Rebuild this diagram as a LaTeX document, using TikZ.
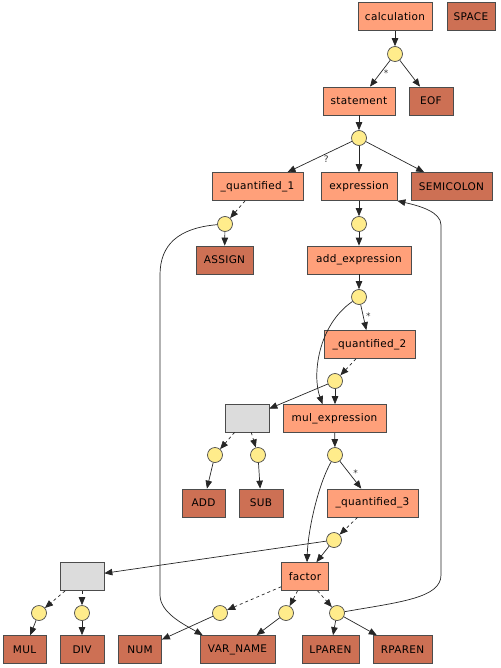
\documentclass[tikz,border=0pt]{standalone}
\usepackage{fontspec}
\setmainfont[LetterSpace=3]{DejaVu Sans}
\usetikzlibrary{arrows.meta}
\definecolor{rulefill}{HTML}{FFA07A}
\definecolor{tokenfill}{HTML}{CD7054}
\definecolor{dotfill}{HTML}{FFEC8B}
\definecolor{altfill}{HTML}{DCDCDC}

\begin{document}
\begin{tikzpicture}[x=1pt,y=-1pt,line width=0.7pt,
  box/.style={draw=black!70, minimum height=28pt, inner xsep=6pt, font=\fontsize{10.5}{12}\selectfont},
  rule/.style={box, fill=rulefill},
  token/.style={box, fill=tokenfill},
  alt/.style={box, fill=altfill, minimum width=44pt},
  dot/.style={circle, draw=black!70, fill=dotfill, minimum size=15pt, inner sep=0pt},
  link/.style={-{Triangle[length=8pt,width=6.5pt]}, black!85},
  optlink/.style={link, dash pattern=on 3pt off 3pt},
  quant/.style={font=\fontsize{9}{10}\selectfont, inner sep=1.5pt, black!80}]
  \useasboundingbox (0,0) rectangle (500,668);
  % rules and tokens
  \node[rule, minimum width=74pt] (calculation) at (395,16.5) {calculation};
  \node[token, minimum width=48pt] (SPACE) at (471,16.5) {SPACE};
  \node[dot] (d1) at (395,54) {};
  \node[rule, minimum width=72pt] (statement) at (359,101) {statement};
  \node[token, minimum width=44pt] (EOF) at (431,101) {EOF};
  \node[dot] (d2) at (359,138) {};
  \node[rule, minimum width=91pt] (quant1) at (257.5,186.5) {\_quantified\_1};
  \node[rule, minimum width=76pt] (expression) at (359,186.5) {expression};
  \node[token, minimum width=81pt] (SEMICOLON) at (451.5,186.5) {SEMICOLON};
  \node[dot] (d3) at (225,224) {};
  \node[dot] (d4) at (359,224) {};
  \node[token, minimum width=57pt] (ASSIGN) at (224.5,260) {ASSIGN};
  \node[rule, minimum width=104pt] (addexpr) at (359,260) {add\_expression};
  \node[dot] (d5) at (359,297) {};
  \node[rule, minimum width=91pt] (quant2) at (369.5,344.5) {\_quantified\_2};
  \node[dot] (d6) at (335,381) {};
  \node[alt] (alt1) at (247,418) {};
  \node[rule, minimum width=103pt] (mulexpr) at (334.5,418.5) {mul\_expression};
  \node[dot] (d7) at (215,455) {};
  \node[dot] (d8) at (258,455) {};
  \node[dot] (d9) at (335,455) {};
  \node[token, minimum width=43pt] (ADD) at (203.5,503) {ADD};
  \node[token, minimum width=44pt] (SUB) at (261,503) {SUB};
  \node[rule, minimum width=91pt] (quant3) at (372.5,503) {\_quantified\_3};
  \node[dot] (d10) at (334,540) {};
  \node[alt] (alt2) at (82,576.5) {};
  \node[rule, minimum width=47pt] (factor) at (305,576.5) {factor};
  \node[dot] (d11) at (39,613) {};
  \node[dot] (d12) at (82,613) {};
  \node[dot] (d13) at (220,613) {};
  \node[dot] (d14) at (286,613) {};
  \node[dot] (d15) at (337,613) {};
  \node[token, minimum width=43pt] (MUL) at (24.5,649.5) {MUL};
  \node[token, minimum width=44pt] (DIV) at (82,649.5) {DIV};
  \node[token, minimum width=43pt] (NUM) at (140,649.5) {NUM};
  \node[token, minimum width=75pt] (VAR_NAME) at (237.5,649.5) {VAR\_NAME};
  \node[token, minimum width=57pt] (LPAREN) at (330.5,649.5) {LPAREN};
  \node[token, minimum width=59pt] (RPAREN) at (402.5,649.5) {RPAREN};
  \coordinate (lt) at (160,275);   % left loop, top
  \coordinate (lb) at (160,595);   % left loop, bottom
  \coordinate (rt) at (441,225);   % right loop, top
  \coordinate (rb) at (441,575);   % right loop, bottom
  % edges
  \draw[link] (calculation) -- (d1);
  \draw[link] (d1) -- node[quant, pos=.5, right=2pt] (star1) {*} (statement);
  \draw[link] (d1) -- (EOF);
  \draw[link] (statement) -- (d2);
  \draw[link] (d2) -- node[quant, pos=.4, below] (qmark) {?} (quant1);
  \draw[link] (d2) -- (expression);
  \draw[link] (d2) -- (SEMICOLON);
  \draw[optlink] (quant1) -- (d3);
  \draw[link] (d3) -- (ASSIGN);
  \draw[link] (d3) .. controls (178,228) and (160,245) .. (lt) -- (lb)
    .. controls (160,613) and (185,625) .. ([xshift=3pt]VAR_NAME.north west);
  \draw[link] (expression) -- (d4);
  \draw[link] (d4) -- (addexpr);
  \draw[link] (addexpr) -- (d5);
  \draw[link] (d5) -- node[quant, pos=.45, right=1pt] (star2) {*} (quant2);
  \draw[link] (d5) .. controls (318,325) and (312,375) .. ([xshift=-12pt]mulexpr.north);
  \draw[optlink] (quant2) -- (d6);
  \draw[link] (d6) -- (alt1);
  \draw[link] (d6) -- (d6 |- mulexpr.north);
  \draw[optlink] (alt1) -- (d7);
  \draw[optlink] (alt1) -- (d8);
  \draw[link] (d7) -- (ADD);
  \draw[link] (d8) -- (SUB);
  \draw[link] (mulexpr) -- (d9);
  \draw[link] (d9) -- node[quant, pos=.45, right=2pt] (star3) {*} (quant3);
  \draw[link] (d9) .. controls (318,485) and (308,530) .. ([xshift=2pt]factor.north);
  \draw[optlink] (quant3) -- (d10);
  \draw[link] (d10) -- (alt2);
  \draw[link] (d10) -- (factor);
  \draw[optlink] (alt2) -- (d11);
  \draw[optlink] (alt2) -- (d12);
  \draw[link] (d11) -- (MUL);
  \draw[link] (d12) -- (DIV);
  \draw[optlink] (factor) -- (d13);
  \draw[optlink] (factor) -- (d14);
  \draw[optlink] (factor) -- (d15);
  \draw[link] (d13) -- (NUM);
  \draw[link] (d14) -- (VAR_NAME);
  \draw[link] (d15) -- (LPAREN);
  \draw[link] (d15) -- (RPAREN);
  \draw[link] (d15) .. controls (400,602) and (441,598) .. (rb) -- (rt)
    .. controls (441,212) and (420,206) .. (expression.south east);
\end{tikzpicture}
\end{document}
